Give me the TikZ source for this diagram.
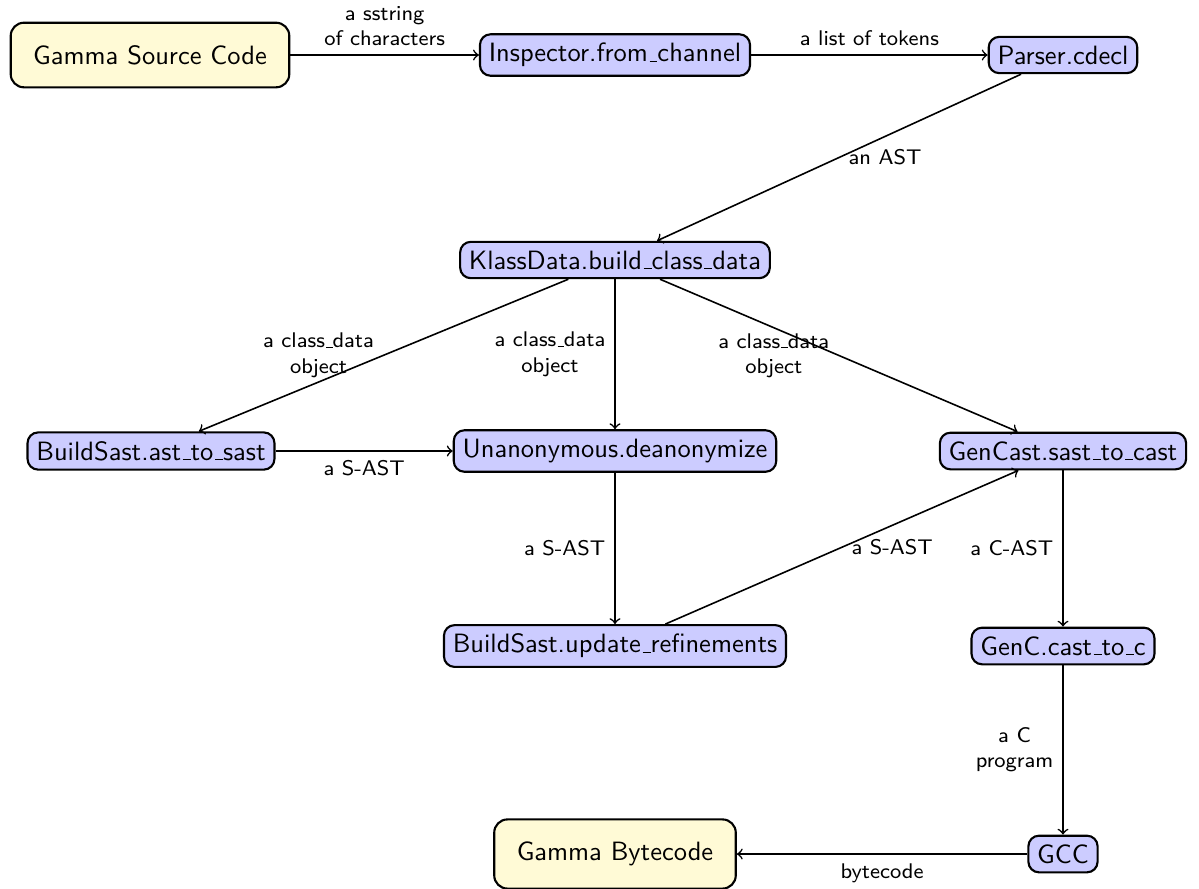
\documentclass[tikz,border=0pt]{standalone}
\usetikzlibrary{arrows}
\definecolor{procblue}{RGB}{204,204,255}
\definecolor{cream}{RGB}{255,250,214}
\newcommand{\uscore}{\leavevmode\kern.06em\vbox{\hrule width.3em}}
\tikzset{
 proc/.style={draw, thick, rounded corners=4pt, fill=procblue, inner sep=3.33pt, font=\sffamily},
 io/.style={draw, thick, rounded corners=5pt, fill=cream, inner xsep=8.5pt, inner ysep=8.5pt, font=\sffamily},
 lbl/.style={font=\sffamily\footnotesize, align=center},
 flow/.style={->, semithick}
}
\begin{document}
\begin{tikzpicture}[x=0.3774pt, y=-0.3774pt]
\useasboundingbox (0,0) rectangle (1199,888);
\node[io] (src) at (150,55) {Gamma Source Code};
\node[proc] (insp) at (615,55) {Inspector.from\uscore channel};
\node[proc] (pars) at (1063,55) {Parser.cdecl};
\node[proc] (klass) at (615,260) {KlassData.build\uscore class\uscore data};
\node[proc] (bsast) at (151,451) {BuildSast.ast\uscore to\uscore sast};
\node[proc] (unan) at (615,451) {Unanonymous.deanonymize};
\node[proc] (gencast) at (1063,451) {GenCast.sast\uscore to\uscore cast};
\node[proc] (upd) at (615,646) {BuildSast.update\uscore refinements};
\node[proc] (genc) at (1063,646) {GenC.cast\uscore to\uscore c};
\node[proc] (gcc) at (1063,854) {GCC};
\node[io] (byte) at (615,854) {Gamma Bytecode};

\draw[flow] (src) -- node[lbl, above] {a sstring\\of characters} (insp);
\draw[flow] (insp) -- node[lbl, above] {a list of tokens} (pars);
\draw[flow] (pars) -- node[lbl, right] {an AST} (klass);
\draw[flow] (klass) -- node[lbl, left] {a class\uscore data\\object} (bsast);
\draw[flow] (klass) -- node[lbl, left] {a class\uscore data\\object} (unan);
\draw[flow] (klass) -- node[lbl, left] {a class\uscore data\\object} (gencast);
\draw[flow] (bsast) -- node[lbl, below] {a S-AST} (unan);
\draw[flow] (unan) -- node[lbl, left] {a S-AST} (upd);
\draw[flow] (upd) -- node[lbl, right] {a S-AST} (gencast);
\draw[flow] (gencast) -- node[lbl, left] {a C-AST} (genc);
\draw[flow] (genc) -- node[lbl, left] {a C\\program} (gcc);
\draw[flow] (gcc) -- node[lbl, below] {bytecode} (byte);
\end{tikzpicture}
\end{document}
